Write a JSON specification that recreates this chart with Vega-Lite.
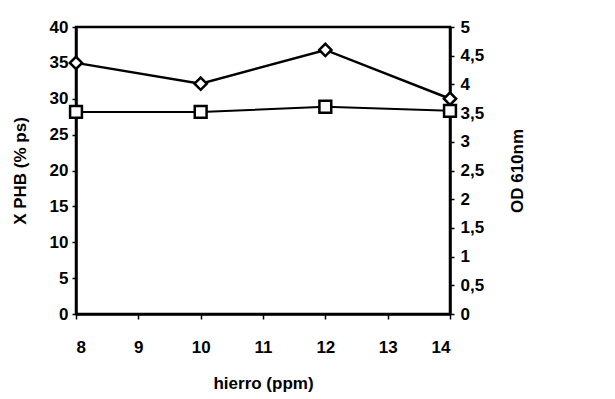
{
  "$schema": "https://vega.github.io/schema/vega-lite/v6.json",
  "width": 374,
  "height": 287,
  "autosize": {"type": "none"},
  "padding": {"left": 76, "top": 27, "right": 165, "bottom": 85},
  "background": "white",
  "config": {
    "view": {"stroke": "black", "strokeWidth": 2.5},
    "font": "Liberation Sans",
    "axis": {
      "labelFont": "Liberation Sans",
      "labelFontSize": 17,
      "labelFontWeight": "bold",
      "labelColor": "black",
      "titleFont": "Liberation Sans",
      "titleFontSize": 17,
      "titleFontWeight": "bold",
      "titleColor": "black",
      "domainColor": "black",
      "domainWidth": 2.5,
      "tickColor": "black",
      "tickWidth": 1.5,
      "tickSize": 4,
      "grid": false
    }
  },
  "data": {
    "values": [
      {"hierro": 8, "xphb": 35.0, "od": 3.52},
      {"hierro": 10, "xphb": 32.1, "od": 3.52},
      {"hierro": 12, "xphb": 36.8, "od": 3.61},
      {"hierro": 14, "xphb": 30.0, "od": 3.54}
    ]
  },
  "encoding": {
    "x": {
      "field": "hierro",
      "type": "quantitative",
      "scale": {"domain": [8, 14], "nice": false},
      "axis": {
        "title": "hierro (ppm)",
        "values": [8, 9, 10, 11, 12, 13, 14],
        "labelPadding": 20,
        "titlePadding": 20,
        "tickSize": 5
      }
    }
  },
  "layer": [
    {
      "layer": [
        {"mark": {"type": "line", "color": "black", "strokeWidth": 2.5}},
        {"mark": {"type": "point", "shape": "diamond", "filled": true, "fill": "white", "stroke": "black", "strokeWidth": 2.5, "size": 150, "opacity": 1, "clip": false}}
      ],
      "encoding": {
        "y": {
          "field": "xphb",
          "type": "quantitative",
          "scale": {"domain": [0, 40], "nice": false},
          "axis": {
            "title": "X PHB (% ps)",
            "values": [0, 5, 10, 15, 20, 25, 30, 35, 40],
            "orient": "left",
            "labelPadding": 4,
            "titlePadding": 20
          }
        }
      }
    },
    {
      "layer": [
        {"mark": {"type": "line", "color": "black", "strokeWidth": 2}},
        {"mark": {"type": "point", "shape": "square", "filled": true, "fill": "white", "stroke": "black", "strokeWidth": 2.5, "size": 140, "opacity": 1, "clip": false}}
      ],
      "encoding": {
        "y": {
          "field": "od",
          "type": "quantitative",
          "scale": {"domain": [0, 5], "nice": false},
          "axis": {
            "title": "OD 610nm",
            "titleAngle": 270,
            "titleBaseline": "middle",
            "titleX": 67,
            "values": [0, 0.5, 1, 1.5, 2, 2.5, 3, 3.5, 4, 4.5, 5],
            "labelExpr": "replace(format(datum.value, ''), '.', ',')",
            "orient": "right",
            "labelPadding": 6
          }
        }
      }
    }
  ],
  "resolve": {"scale": {"y": "independent"}}
}
